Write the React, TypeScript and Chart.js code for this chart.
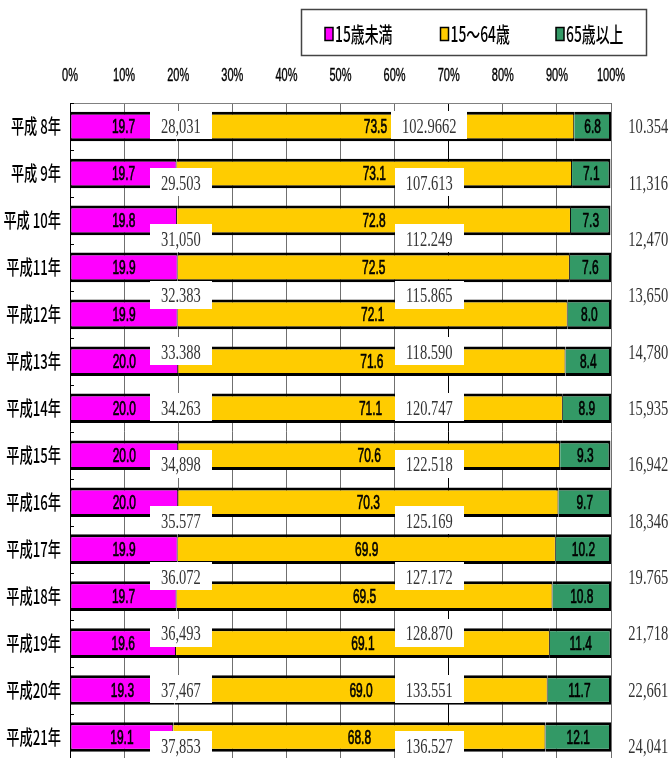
import { useEffect, useRef } from 'react';
import { Chart, registerables } from 'chart.js';

Chart.register(...registerables);

// Age-group shares of population (percent) per year
const years = [
  '平成 8年', '平成 9年', '平成 10年', '平成11年', '平成12年', '平成13年', '平成14年',
  '平成15年', '平成16年', '平成17年', '平成18年', '平成19年', '平成20年', '平成21年',
];
const under15 = [19.7, 19.7, 19.8, 19.9, 19.9, 20.0, 20.0, 20.0, 20.0, 19.9, 19.7, 19.6, 19.3, 19.1];
const working = [73.5, 73.1, 72.8, 72.5, 72.1, 71.6, 71.1, 70.6, 70.3, 69.9, 69.5, 69.1, 69.0, 68.8];
const elderly = [6.8, 7.1, 7.3, 7.6, 8.0, 8.4, 8.9, 9.3, 9.7, 10.2, 10.8, 11.4, 11.7, 12.1];
const seriesNames = ['15歳未満', '15～64歳', '65歳以上'];
const seriesColors = ['#FF00FF', '#FFCC00', '#339966'];
const xTickLabels = ['0%', '10%', '20%', '30%', '40%', '50%', '60%', '70%', '80%', '90%', '100%'];

// Head counts printed in white boxes and at the right margin
const countUnder15 = ['28,031', '29.503', '31,050', '32.383', '33.388', '34.263', '34,898', '35.577', '36.072', '36,493', '37,467', '37,853'];
const countWorking = ['102.9662', '107.613', '112.249', '115.865', '118.590', '120.747', '122.518', '125.169', '127.172', '128.870', '133.551', '136.527'];
const countElderly = ['10.354', '11,316', '12,470', '13,650', '14,780', '15,935', '16,942', '18,346', '19.765', '21,718', '22,661', '24,041'];

const NUM_FONT = '21px "Liberation Sans", Arial, sans-serif';
const NUM_SX = 0.57;
const TICK_FONT = '18px "Liberation Sans", Arial, sans-serif';
const TICK_SX = 0.61;
const COUNT_FONT = '22px "Liberation Serif", "Times New Roman", serif';
const COUNT_SX = 0.66;
const CAT_FONT = '500 20px "Noto Sans CJK JP", sans-serif';
const LEGEND_FONT = '500 21px "Noto Sans CJK JP", sans-serif';

function drawNarrow(
  ctx: CanvasRenderingContext2D,
  text: string,
  x: number,
  y: number,
  font: string,
  sx: number,
  align: 'left' | 'center' | 'right',
  color: string,
  heavy = 0,
): number {
  ctx.save();
  ctx.font = font;
  ctx.fillStyle = color;
  ctx.textBaseline = 'middle';
  ctx.textAlign = 'left';
  const w = ctx.measureText(text).width * sx;
  const left = align === 'center' ? x - w / 2 : align === 'right' ? x - w : x;
  ctx.translate(left, y);
  ctx.scale(sx, 1);
  ctx.fillText(text, 0, 0);
  if (heavy > 0) {
    ctx.strokeStyle = color;
    ctx.lineWidth = heavy;
    ctx.strokeText(text, 0, 0);
  }
  ctx.restore();
  return w;
}

const decorations = {
  id: 'decorations',
  beforeDatasetsDraw(chart: any) {
    const { ctx, chartArea } = chart;
    const yScale = chart.scales.y;
    ctx.save();
    // frame top edge
    ctx.strokeStyle = '#808080';
    ctx.lineWidth = 1;
    ctx.beginPath();
    ctx.moveTo(chartArea.left, chartArea.top + 0.5);
    ctx.lineTo(chartArea.right, chartArea.top + 0.5);
    ctx.stroke();
    // small category tick marks on the left axis
    ctx.strokeStyle = '#000';
    const step = yScale.getPixelForValue(1) - yScale.getPixelForValue(0);
    for (let i = 0; i <= years.length; i++) {
      const yy = Math.round(yScale.getPixelForValue(0) - step / 2 + i * step) + 0.5;
      ctx.beginPath();
      ctx.moveTo(chartArea.left, yy);
      ctx.lineTo(chartArea.left + 4, yy);
      ctx.stroke();
    }
    ctx.restore();
  },
  afterDatasetsDraw(chart: any) {
    const { ctx, chartArea } = chart;
    const xScale = chart.scales.x;
    const yScale = chart.scales.y;

    // percentage labels centred in each segment
    [under15, working, elderly].forEach((vals, d) => {
      const meta = chart.getDatasetMeta(d);
      meta.data.forEach((el: any, i: number) => {
        const p = el.getProps(['x', 'base', 'y'], true);
        drawNarrow(ctx, vals[i].toFixed(1), (p.x + p.base) / 2, p.y + 1, NUM_FONT, NUM_SX, 'center', '#000', 0.7);
      });
    });

    // head-count labels
    const step = yScale.getPixelForValue(1) - yScale.getPixelForValue(0);
    const y0 = yScale.getPixelForValue(0);
    const boxed = (text: string, xv: number, yy: number) => {
      ctx.save();
      ctx.font = COUNT_FONT;
      const w = ctx.measureText(text).width * COUNT_SX;
      const cx = xScale.getPixelForValue(xv);
      ctx.fillStyle = '#fff';
      ctx.fillRect(Math.round(cx - w / 2 - 11), Math.round(yy - 15), Math.round(w + 22), 28);
      ctx.restore();
      drawNarrow(ctx, text, cx, yy + 1, COUNT_FONT, COUNT_SX, 'center', '#333');
    };
    countUnder15.forEach((t, i) => boxed(t, 20.5, y0 + i * 1.2 * step));
    countWorking.forEach((t, i) => boxed(t, 66.4, y0 + i * 1.2 * step));
    countElderly.forEach((t, i) => {
      drawNarrow(ctx, t, xScale.getPixelForValue(106.9), y0 + i * 1.2 * step + 1, COUNT_FONT, COUNT_SX, 'center', '#333');
    });

    // category labels
    years.forEach((label, i) => {
      drawNarrow(ctx, label, chartArea.left - 9, yScale.getPixelForValue(i), CAT_FONT, 0.66, 'right', '#000');
    });

    // percent axis labels above the plot
    xTickLabels.forEach((label, i) => {
      drawNarrow(ctx, label, xScale.getPixelForValue(i * 10), 76, TICK_FONT, TICK_SX, 'center', '#000', 0.4);
    });

    // legend
    ctx.save();
    ctx.fillStyle = '#fff';
    ctx.fillRect(301, 9, 346, 47);
    ctx.strokeStyle = '#444';
    ctx.lineWidth = 1.5;
    ctx.strokeRect(301.5, 9.5, 345, 46);
    ctx.restore();
    seriesNames.forEach((name, i) => {
      const sx = 325 + i * 115.5;
      ctx.save();
      ctx.fillStyle = seriesColors[i];
      ctx.fillRect(sx, 27.5, 8, 13);
      ctx.strokeStyle = '#000';
      ctx.lineWidth = 1.5;
      ctx.strokeRect(sx, 27.5, 8, 13);
      ctx.restore();
      drawNarrow(ctx, name, sx + 10, 34, LEGEND_FONT, 0.66, 'left', '#000');
    });
  },
};

export default function App() {
  const canvasRef = useRef<HTMLCanvasElement | null>(null);

  useEffect(() => {
    if (!canvasRef.current) return;
    const segBorder = (d: number) => ({
      top: 3,
      bottom: 3,
      left: d === 0 ? 1 : 0,
      right: d === 2 ? 2 : 1,
    });
    const chart = new Chart(canvasRef.current, {
      type: 'bar',
      data: {
        labels: years,
        datasets: [under15, working, elderly].map((data, d) => ({
          label: seriesNames[d],
          data,
          backgroundColor: seriesColors[d],
          borderColor: '#000',
          borderWidth: segBorder(d),
          borderSkipped: false,
          barPercentage: 0.63,
          categoryPercentage: 1,
        })),
      },
      options: {
        indexAxis: 'y',
        responsive: false,
        animation: false,
        layout: { padding: { left: 70, right: 61, top: 103, bottom: 9.5 } },
        plugins: {
          legend: { display: false },
          tooltip: { enabled: false },
        },
        scales: {
          x: {
            position: 'top',
            stacked: true,
            min: 0,
            max: 100,
            ticks: { display: false, stepSize: 10 },
            grid: {
              drawTicks: false,
              color: (c: any) => (c.tick && (c.tick.value === 0 || c.tick.value === 70) ? '#000' : '#707070'),
              lineWidth: 1,
            },
            border: { display: false },
          },
          y: {
            stacked: true,
            display: false,
          },
        },
      },
      plugins: [decorations],
    });
    return () => chart.destroy();
  }, []);

  return (
    <div style={{ position: 'fixed', left: 0, top: 0, width: 672, height: 770, background: '#fff' }}>
      <canvas ref={canvasRef} width={672} height={770} style={{ display: 'block' }} />
    </div>
  );
}
